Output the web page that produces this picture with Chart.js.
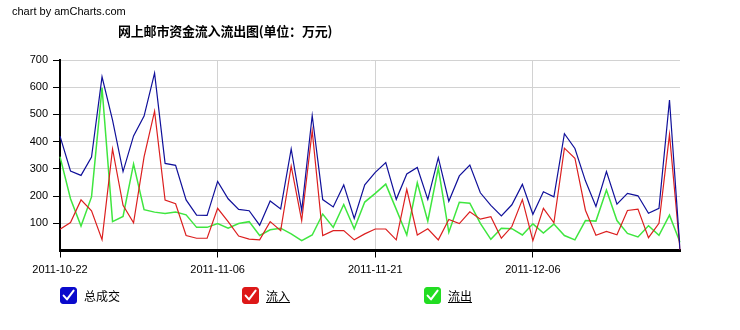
<!DOCTYPE html>
<html>
<head>
<meta charset="utf-8">
<script src="https://cdn.jsdelivr.net/npm/chart.js@4"></script>
<style>
  html, body { margin: 0; padding: 0; background: #fff; }
  #wrap { position: relative; width: 740px; height: 330px; overflow: hidden; font-family: "Liberation Sans", Arial, sans-serif; }
  #chart { position: absolute; left: 0; top: 0; }
  .credit { position: absolute; left: 12px; top: 5px; font-size: 11px; color: #000; }
  .title { position: absolute; left: 118px; top: 21px; font-size: 13px; font-weight: bold; color: #000;
           font-family: "Noto Sans CJK SC", "Liberation Sans", sans-serif; letter-spacing: -0.2px; }
  .leg { position: absolute; top: 287px; height: 17px; display: flex; align-items: center;
         font-size: 12px; color: #000; font-family: "Noto Sans CJK SC", sans-serif; }
  .leg svg { margin-right: 7px; }
  .leg span.u { text-decoration: underline; }
</style>
</head>
<body>
<div id="wrap">
  <canvas id="chart" width="740" height="330"></canvas>
  <div class="credit">chart by amCharts.com</div>
  <div class="title">网上邮市资金流入流出图(单位：万元)</div>
  <div class="leg" id="leg0" style="left:60px"></div>
  <div class="leg" id="leg1" style="left:242px"></div>
  <div class="leg" id="leg2" style="left:424px"></div>
</div>
<script>
// Trading days
const dates = [
  '2011-10-22','2011-10-23','2011-10-24','2011-10-25','2011-10-26','2011-10-27','2011-10-28','2011-10-29','2011-10-30','2011-10-31',
  '2011-11-01','2011-11-02','2011-11-03','2011-11-04','2011-11-05','2011-11-06','2011-11-07','2011-11-08','2011-11-09','2011-11-10',
  '2011-11-11','2011-11-12','2011-11-13','2011-11-14','2011-11-15','2011-11-16','2011-11-17','2011-11-18','2011-11-19','2011-11-20',
  '2011-11-21','2011-11-22','2011-11-23','2011-11-24','2011-11-25','2011-11-26','2011-11-27','2011-11-28','2011-11-29','2011-11-30',
  '2011-12-01','2011-12-02','2011-12-03','2011-12-04','2011-12-05','2011-12-06','2011-12-07','2011-12-08','2011-12-09','2011-12-10',
  '2011-12-11','2011-12-12','2011-12-13','2011-12-14','2011-12-15','2011-12-16','2011-12-17','2011-12-18','2011-12-19','2011-12-20'
];

// 总成交 (total turnover, 万元)
const totalVals = [
  420, 292, 276, 343, 638, 479, 290, 421, 494, 652,
  320, 313, 186, 130, 129, 254, 190, 151, 146, 93,
  182, 153, 373, 147, 496, 187, 160, 241, 118, 241,
  287, 323, 188, 281, 305, 188, 341, 181, 274, 314,
  212, 166, 127, 168, 243, 133, 216, 197, 429, 375,
  256, 162, 290, 170, 210, 201, 137, 155, 553, 4
];

// 流入 (inflow)
const inflowVals = [
  78, 103, 186, 146, 40, 373, 166, 102, 344, 512,
  185, 172, 55, 45, 45, 155, 106, 53, 42, 39,
  106, 73, 310, 110, 440, 55, 73, 73, 39, 61,
  79, 79, 39, 225, 57, 80, 39, 114, 99, 142,
  115, 124, 45, 88, 187, 36, 155, 102, 376, 339,
  148, 56, 70, 58, 147, 152, 47, 100, 426, 3
];

// 流出 (outflow)
const outflowVals = [
  345, 190, 90, 197, 598, 106, 125, 318, 150, 141,
  136, 141, 131, 85, 85, 99, 82, 99, 106, 55,
  76, 82, 61, 36, 57, 134, 85, 169, 80, 178,
  210, 244, 151, 57, 249, 108, 303, 67, 177, 174,
  100, 41, 82, 80, 57, 98, 64, 97, 55, 39,
  110, 108, 222, 110, 63, 50, 91, 56, 130, 30
];

const yTicks = [100, 200, 300, 400, 500, 600, 700];

const seriesNames = ['总成交', '流入', '流出'];
const seriesColors = ['#10109a', '#dc1f1f', '#3fe63f'];
const boxColors = ['#0a0acc', '#dd1818', '#22dd22'];

// Legend with check boxes
seriesNames.forEach((name, i) => {
  const el = document.getElementById('leg' + i);
  el.innerHTML =
    '<svg width="17" height="17" viewBox="0 0 17 17">' +
    '<rect x="0.5" y="0.5" width="16" height="16" rx="2.5" fill="' + boxColors[i] + '" stroke="' + boxColors[i] + '"/>' +
    '<path d="M3.6 8.6 L7 12.4 L13.6 3.6" fill="none" stroke="#fff" stroke-width="2" stroke-linecap="round" stroke-linejoin="round"/>' +
    '</svg><span class="' + (i > 0 ? 'u' : '') + '">' + name + '</span>';
});

const LABEL_EVERY = 15;

new Chart(document.getElementById('chart'), {
  type: 'line',
  data: {
    labels: dates,
    datasets: [
      { label: seriesNames[0], data: totalVals, borderColor: seriesColors[0], borderWidth: 1.2 },
      { label: seriesNames[1], data: inflowVals, borderColor: seriesColors[1], borderWidth: 1.2 },
      { label: seriesNames[2], data: outflowVals, borderColor: seriesColors[2], borderWidth: 1.5 }
    ]
  },
  options: {
    responsive: false,
    animation: false,
    devicePixelRatio: 1,
    layout: { padding: { left: 0, right: 60, top: 60, bottom: 0 } },
    elements: {
      point: { radius: 0, hoverRadius: 0 },
      line: { tension: 0, fill: false }
    },
    plugins: {
      legend: { display: false },
      title: { display: false },
      tooltip: { enabled: false }
    },
    scales: {
      x: {
        type: 'category',
        offset: false,
        afterBuildTicks(scale) {
          scale.ticks = scale.ticks.filter(t => t.value % LABEL_EVERY === 0);
        },
        afterFit(scale) { scale.height = 79.5; },
        ticks: {
          autoSkip: false,
          maxRotation: 0,
          color: '#000',
          padding: 6,
          font: { family: '"Liberation Sans", Arial, sans-serif', size: 11 },
          callback(value) { return this.getLabelForValue(value); }
        },
        grid: {
          color: '#d2d2d2',
          lineWidth: 1,
          drawTicks: true,
          tickLength: 7,
          tickColor: '#000',
          tickWidth: 1
        },
        border: { display: true, color: '#000', width: 3 }
      },
      y: {
        min: 0,
        max: 700,
        afterBuildTicks(scale) {
          scale.ticks = yTicks.map(v => ({ value: v }));
        },
        afterFit(scale) { scale.width = 60; },
        ticks: {
          color: '#000',
          padding: 5,
          font: { family: '"Liberation Sans", Arial, sans-serif', size: 11 },
          callback(value) { return String(value); }
        },
        grid: {
          color: '#d2d2d2',
          lineWidth: 1,
          drawTicks: true,
          tickLength: 7,
          tickColor: '#000'
        },
        border: { display: true, color: '#000', width: 2 }
      }
    }
  }
});
</script>
</body>
</html>
